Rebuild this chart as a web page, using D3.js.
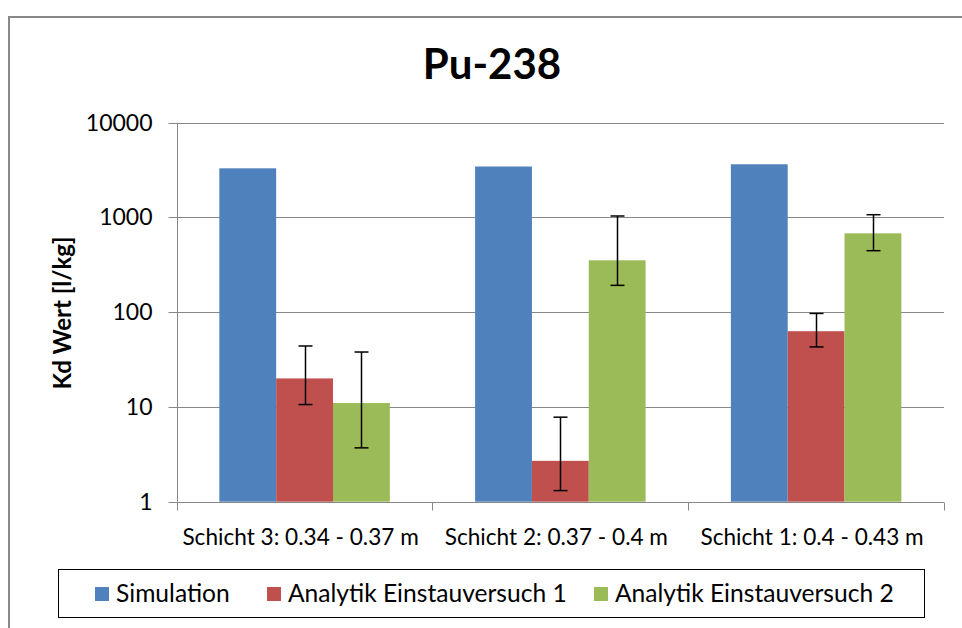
<!DOCTYPE html>
<html><head><meta charset="utf-8">
<script src="https://cdn.jsdelivr.net/npm/d3@7"></script>
<style>
body{margin:0;background:#fff;}
text{font-family:Lato,"Open Sans",sans-serif;fill:#000;}
</style></head>
<body><svg id="chart" width="962" height="628"></svg>
<script>
const title = "Pu-238";
const yAxisTitle = "Kd Wert [l/kg]";
const categories = ["Schicht 3: 0.34 - 0.37 m", "Schicht 2: 0.37 - 0.4 m", "Schicht 1: 0.4 - 0.43 m"];
const seriesNames = ["Simulation", "Analytik Einstauversuch 1", "Analytik Einstauversuch 2"];
const seriesColors = ["#4F81BD", "#C0504D", "#9BBB59"];
const simulation = [3300, 3450, 3640];
const analytik1 = [20, 2.7, 63];
const analytik2 = [11, 353, 680];
const analytik1Low = [10.6, 1.31, 43];
const analytik1High = [44, 7.8, 97];
const analytik2Low = [3.7, 192, 446];
const analytik2High = [38, 1036, 1069];
const yTicks = [1, 10, 100, 1000, 10000];

const svg = d3.select("#chart");
const M = {left: 176.7, right: 944, top: 122.7, bottom: 501.7};

// outer chart border
svg.append("rect").attr("x", 9).attr("y", 17).attr("width", 990).attr("height", 650)
  .attr("fill", "none").attr("stroke", "#888").attr("stroke-width", 2);

const y = d3.scaleLog().domain([1, 10000]).range([M.bottom, M.top]);
const x0 = d3.scaleBand().domain(categories).range([M.left, M.right]).paddingInner(0).paddingOuter(0);
// gap width 150% => band split in 4.5 bar widths
const bw = x0.bandwidth() / 4.5;
const x1 = d3.scaleBand().domain(seriesNames).range([0.75 * bw, 3.75 * bw]).padding(0);

// gridlines
svg.append("g").selectAll("line").data(yTicks).join("line")
  .attr("x1", M.left).attr("x2", M.right)
  .attr("y1", d => Math.round(y(d)) + 0.5).attr("y2", d => Math.round(y(d)) + 0.5)
  .attr("stroke", "#878787").attr("stroke-width", 1);

// y axis
const yAxis = d3.axisLeft(y).tickValues(yTicks).tickFormat(d3.format("d")).tickSize(9).tickPadding(16);
const gy = svg.append("g").attr("transform", `translate(${Math.round(M.left) + 0.5},0)`).call(yAxis);
gy.select(".domain").attr("stroke", "#878787").attr("d", `M0,${M.top}V${M.bottom}`);
gy.selectAll(".tick line").attr("stroke", "#878787");
gy.selectAll(".tick text").attr("font-size", 23).attr("fill", "#000").attr("font-family", "Lato");
gy.selectAll(".tick").attr("transform", d => `translate(0,${Math.round(y(d)) + 0.5})`);

// x axis
const gx = svg.append("g").attr("transform", `translate(0,${Math.round(M.bottom) + 0.5})`);
gx.append("line").attr("x1", M.left).attr("x2", M.right).attr("stroke", "#878787");
const bounds = categories.map(c => x0(c)).concat([M.right]);
gx.selectAll(".tk").data(bounds).join("line").attr("class", "tk")
  .attr("x1", d => Math.round(d) + 0.5).attr("x2", d => Math.round(d) + 0.5)
  .attr("y1", 0).attr("y2", 8).attr("stroke", "#878787");
gx.selectAll(".lbl").data(categories).join("text").attr("class", "lbl")
  .attr("x", d => x0(d) + x0.bandwidth() / 2 - 4).attr("y", 42.5)
  .attr("text-anchor", "middle").attr("font-size", 22.6).text(d => d);

// bars
const values = [simulation, analytik1, analytik2];
const bars = [];
seriesNames.forEach((s, si) => categories.forEach((c, ci) => bars.push({s, c, v: values[si][ci], color: seriesColors[si]})));
svg.append("g").selectAll("rect").data(bars).join("rect")
  .attr("x", d => x0(d.c) + x1(d.s)).attr("width", x1.bandwidth())
  .attr("y", d => y(d.v)).attr("height", d => y(1) - y(d.v))
  .attr("fill", d => d.color);

// error bars
const errs = [];
categories.forEach((c, ci) => {
  errs.push({s: seriesNames[1], c, lo: analytik1Low[ci], hi: analytik1High[ci]});
  errs.push({s: seriesNames[2], c, lo: analytik2Low[ci], hi: analytik2High[ci]});
});
const ge = svg.append("g").attr("stroke", "#000").attr("stroke-width", 1.5);
errs.forEach(e => {
  const cx = Math.round(x0(e.c) + x1(e.s) + x1.bandwidth() / 2) + 0.5;
  ge.append("line").attr("x1", cx).attr("x2", cx).attr("y1", y(e.lo)).attr("y2", y(e.hi));
  ge.append("line").attr("x1", cx - 7).attr("x2", cx + 7).attr("y1", y(e.lo)).attr("y2", y(e.lo));
  ge.append("line").attr("x1", cx - 7).attr("x2", cx + 7).attr("y1", y(e.hi)).attr("y2", y(e.hi));
});

// title
svg.append("text").attr("x", 492).attr("y", 79).attr("text-anchor", "middle")
  .attr("font-size", 42).attr("font-weight", "bold").text(title);

// y axis title
svg.append("text").attr("transform", `translate(71,313) rotate(-90)`).attr("text-anchor", "middle")
  .attr("font-size", 24).attr("font-weight", "bold").text(yAxisTitle);

// legend
svg.append("rect").attr("x", 58.5).attr("y", 569.5).attr("width", 866).attr("height", 48)
  .attr("fill", "#fff").attr("stroke", "#000").attr("stroke-width", 1);
const legX = [95, 267, 594];
const lg = svg.append("g").selectAll("g").data(seriesNames).join("g")
  .attr("transform", (d, i) => `translate(${legX[i]},587)`);
lg.append("rect").attr("width", 14).attr("height", 14).attr("fill", (d, i) => seriesColors[i]);
lg.append("text").attr("x", 21).attr("y", 15).attr("font-size", 24.6).text(d => d);
</script></body></html>
